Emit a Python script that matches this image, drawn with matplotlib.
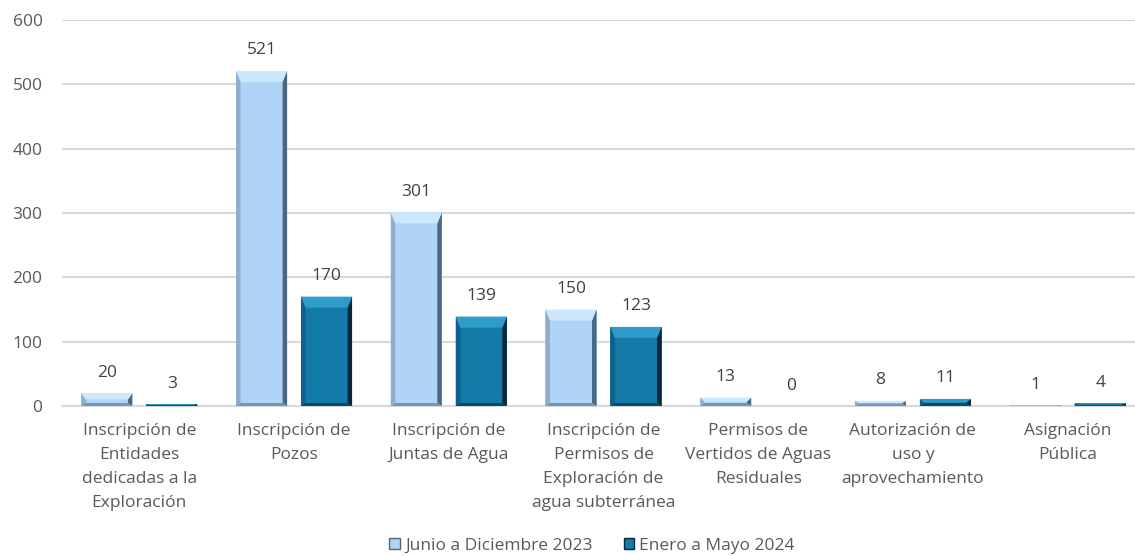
import matplotlib
matplotlib.use("Agg")
from matplotlib import pyplot as plt
from matplotlib.patches import Polygon, Patch
import numpy as np

# datos del grafico
categorias = [
    "Inscripción de\nEntidades\ndedicadas a la\nExploración",
    "Inscripción de\nPozos",
    "Inscripción de\nJuntas de Agua",
    "Inscripción de\nPermisos de\nExploración de\nagua subterránea",
    "Permisos de\nVertidos de Aguas\nResiduales",
    "Autorización de\nuso y\naprovechamiento",
    "Asignación\nPública",
]
serie_2023 = [20, 521, 301, 150, 13, 8, 1]
serie_2024 = [3, 170, 139, 123, 0, 11, 4]
nombres = ["Junio a Diciembre 2023", "Enero a Mayo 2024"]

plt.rcParams["font.family"] = ["Open Sans", "DejaVu Sans"]
gris = "#595959"

fig = plt.figure(figsize=(11.35, 5.56), dpi=100)
ax = fig.add_axes([62 / 1135, 150 / 556, 1083 / 1135, 386 / 556])

x = np.arange(len(categorias))
ancho = 0.33
desp = 0.21

# colores: cara, arriba, izquierda, derecha, abajo
estilos = [
    dict(face="#B0D4F6", top="#CDE8FC", left="#8EAECD", right="#4B6782", bottom="#7894B0"),
    dict(face="#147AA8", top="#2E9DCB", left="#0E6289", right="#07283A", bottom="#0B4A66"),
]

px_x = 1 / 154.7
px_y = 600 / 386

for serie, off, est in [(serie_2023, -desp, estilos[0]), (serie_2024, desp, estilos[1])]:
    barras = ax.bar(x + off, serie, ancho, color=est["face"], zorder=3)
    for b, v in zip(barras, serie):
        x0 = b.get_x()
        x1 = x0 + b.get_width()
        h = b.get_height()
        if h > 0:
            bx = 4.5 * px_x
            bt = min(11 * px_y, h / 2)
            bb = min(3 * px_y, h / 2)
            polys = [
                ([(x0, 0), (x0, h), (x0 + bx, h - bt), (x0 + bx, bb)], est["left"]),
                ([(x1, 0), (x1, h), (x1 - bx, h - bt), (x1 - bx, bb)], est["right"]),
                ([(x0, h), (x1, h), (x1 - bx, h - bt), (x0 + bx, h - bt)], est["top"]),
                ([(x0, 0), (x1, 0), (x1 - bx, bb), (x0 + bx, bb)], est["bottom"]),
            ]
            for pts, c in polys:
                ax.add_patch(Polygon(pts, closed=True, facecolor=c, edgecolor="none", zorder=4))
        ax.annotate(str(v), (x0 + b.get_width() / 2, h), xytext=(0, 9),
                    textcoords="offset points", ha="center", va="bottom",
                    fontsize=12.5, color="#404040")

ax.set_xlim(-0.5, len(categorias) - 0.5)
ax.set_ylim(0, 600)
ax.set_yticks(range(0, 601, 100))
ax.set_xticks(x)
ax.set_xticklabels(categorias, fontsize=12.5, color=gris, linespacing=1.68, va="top")
ax.tick_params(axis="y", length=0, pad=14, labelsize=12.5, labelcolor=gris)
ax.tick_params(axis="x", length=0, pad=12)
ax.grid(axis="y", color="#D9D9D9", linewidth=1.5, zorder=0)
for s in ["top", "right", "left"]:
    ax.spines[s].set_visible(False)
ax.spines["bottom"].set_color("#D9D9D9")
ax.spines["bottom"].set_linewidth(1.5)

handles = [Patch(facecolor=estilos[0]["face"], edgecolor=estilos[0]["right"]),
           Patch(facecolor=estilos[1]["face"], edgecolor=estilos[1]["right"])]
fig.legend(handles, nombres, loc="center", bbox_to_anchor=(592 / 1135, 1 - 546 / 556),
           ncol=2, frameon=False, fontsize=12.5, labelcolor=gris,
           handlelength=0.6, handleheight=0.6, handletextpad=0.3, columnspacing=1.8)

fig.savefig("out.png", dpi=100)
